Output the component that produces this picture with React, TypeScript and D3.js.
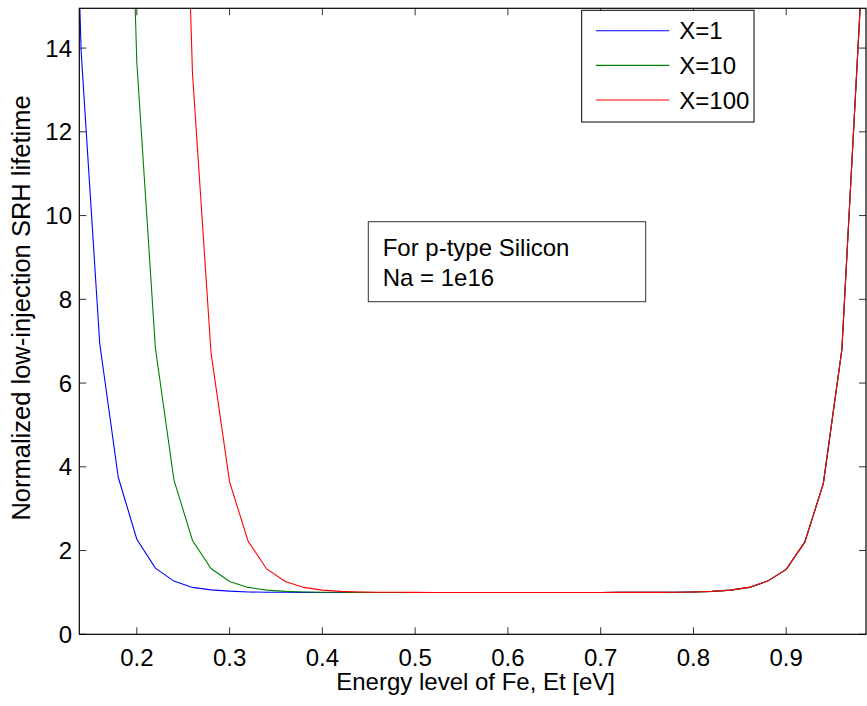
import React from "react";
import * as d3 from "d3";

const energy = [
  0.12, 0.14, 0.16, 0.18, 0.2, 0.22, 0.24, 0.26, 0.28, 0.3, 0.32, 0.34, 0.36, 0.38, 0.4,
  0.42, 0.44, 0.46, 0.48, 0.5, 0.52, 0.54, 0.56, 0.58, 0.6, 0.62, 0.64, 0.66, 0.68, 0.7,
  0.72, 0.74, 0.76, 0.78, 0.8, 0.82, 0.84, 0.86, 0.88, 0.9, 0.92, 0.94, 0.96, 0.98, 1.0,
];

const rightTail = [1.0005, 1.001, 1.002, 1.005, 1.012, 1.025, 1.054, 1.12, 1.27, 1.55, 2.2, 3.6, 6.8, 15.1, 33];

const lifetimeX1 = [
  29.0, 13.91, 6.95, 3.75, 2.27, 1.58, 1.27, 1.12, 1.06, 1.03, 1.01, 1.006, 1.003, 1.001,
  1, 1, 1, 1, 1, 1, 1, 1, 1, 1, 1, 1, 1, 1, 1, 1,
  ...rightTail,
];

const lifetimeX10 = [
  281, 130, 60.5, 28.5, 13.66, 6.84, 3.69, 2.24, 1.57, 1.26, 1.12, 1.056, 1.026, 1.012, 1.006, 1.003, 1.001,
  1, 1, 1, 1, 1, 1, 1, 1, 1, 1, 1, 1, 1,
  ...rightTail,
];

const lifetimeX100 = [
  2801, 1292, 596, 275.5, 127.6, 59.4, 27.9, 13.4, 6.72, 3.64, 2.22, 1.56, 1.26, 1.12, 1.055, 1.025, 1.012, 1.005, 1.0025, 1.001,
  1, 1, 1, 1, 1, 1, 1, 1, 1, 1,
  ...rightTail,
];

const seriesNames = ["X=1", "X=10", "X=100"];
const seriesColors = ["#0000ff", "#008000", "#ff0000"];
const xTicks = [0.2, 0.3, 0.4, 0.5, 0.6, 0.7, 0.8, 0.9];
const yTicks = [0, 2, 4, 6, 8, 10, 12, 14];

const W = 867;
const H = 706;
const L = 79.3, R = 866, T = 8.3, B = 634.3;
const FONT = "'Liberation Sans', Arial, Helvetica, sans-serif";
const FS = 24;

export default function App() {
  const x = d3.scaleLinear().domain([0.138, 0.986]).range([L, R]);
  const y = d3.scaleLinear().domain([0, 14.95]).range([B, T]);
  const line = d3
    .line<[number, number]>()
    .x((d) => x(d[0]))
    .y((d) => y(d[1]));
  const all = [lifetimeX1, lifetimeX10, lifetimeX100];
  const tl = 7;

  return (
    <svg
      width={W}
      height={H}
      style={{ position: "absolute", left: 0, top: 0, background: "#fff" }}
      fontFamily={FONT}
    >
      <rect x={0} y={0} width={W} height={H} fill="#fff" />
      <defs>
        <clipPath id="plotclip">
          <rect x={L} y={T} width={R - L} height={B - T} />
        </clipPath>
      </defs>
      <g clipPath="url(#plotclip)">
        {all.map((vals, i) => (
          <path
            key={i}
            d={line(energy.map((e, j) => [e, vals[j]] as [number, number])) || ""}
            fill="none"
            stroke={seriesColors[i]}
            strokeWidth={1.1}
          />
        ))}
      </g>
      {xTicks.map((t) => (
        <g key={"x" + t}>
          <line x1={x(t)} x2={x(t)} y1={B} y2={B - tl} stroke="#333" />
          <line x1={x(t)} x2={x(t)} y1={T} y2={T + tl} stroke="#333" />
          <text x={x(t)} y={665.5} fontSize={FS} textAnchor="middle" fill="#000">
            {t.toFixed(1)}
          </text>
        </g>
      ))}
      {yTicks.map((t) => (
        <g key={"y" + t}>
          <line x1={L} x2={L + tl} y1={y(t)} y2={y(t)} stroke="#333" />
          <line x1={R} x2={R - tl} y1={y(t)} y2={y(t)} stroke="#333" />
          <text x={72} y={y(t) + 8.6} fontSize={FS} textAnchor="end" fill="#000">
            {t}
          </text>
        </g>
      ))}
      <rect x={L} y={T} width={R - L} height={B - T} fill="none" stroke="#000" strokeWidth={1.2} />
      <text x={(L + R) / 2 + 3} y={690} fontSize={FS} textAnchor="middle" fill="#000">
        Energy level of Fe, Et [eV]
      </text>
      <text
        transform={`translate(29.5,308) rotate(-90)`}
        fontSize={25.5}
        textAnchor="middle"
        fill="#000"
      >
        Normalized low-injection SRH lifetime
      </text>
      <rect x={581.7} y={10.3} width={172.3} height={111.7} fill="#fff" stroke="#000" strokeWidth={1} />
      {seriesNames.map((n, i) => {
        const ly = 30.7 + i * 34.65;
        return (
          <g key={n}>
            <line x1={596} x2={669.3} y1={ly} y2={ly} stroke={seriesColors[i]} strokeWidth={1.1} />
            <text x={679.3} y={ly + 8.6} fontSize={FS} fill="#000">
              {n}
            </text>
          </g>
        );
      })}
      <rect x={368.3} y={221.7} width={277.4} height={80} fill="#fff" stroke="#333" strokeWidth={1} />
      <text x={382.7} y={256} fontSize={FS} fill="#000">
        For p-type Silicon
      </text>
      <text x={382.7} y={286} fontSize={FS} fill="#000">
        Na = 1e16
      </text>
    </svg>
  );
}
